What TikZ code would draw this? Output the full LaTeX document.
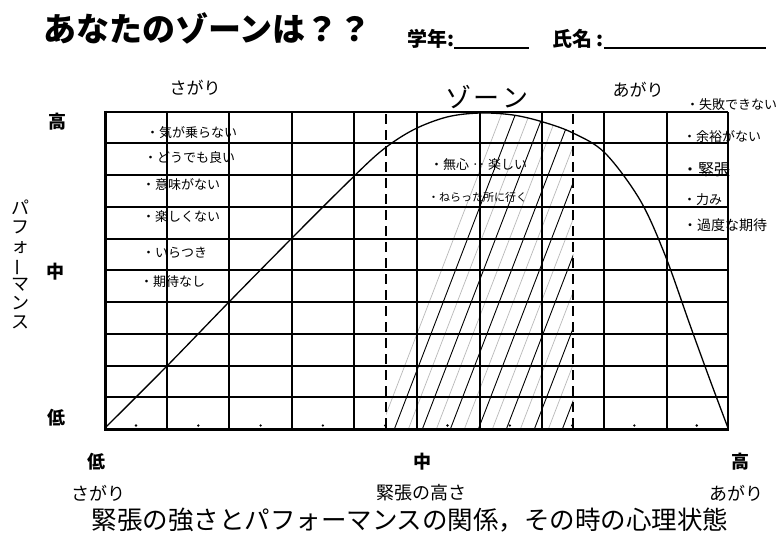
\documentclass[tikz,border=0pt]{standalone}
\usepackage{fontspec}
\setmainfont{Noto Sans CJK JP}
\usepackage{graphicx}
\begin{document}
\begin{tikzpicture}[x=1pt,y=-1pt,
  gridline/.style={line width=2pt},
  frameline/.style={line width=3pt},
  zoneline/.style={line width=1.4pt,dash pattern=on 10pt off 6pt},
  curveline/.style={line width=1.3pt},
  hatchdark/.style={line width=0.9pt},
  hatchlight/.style={line width=0.7pt,gray!55},
  hw/.style={anchor=west,inner sep=0pt,font=\fontsize{13}{15}\selectfont},
  hwbig/.style={inner sep=0pt,font=\fontsize{17}{19}\selectfont},
  axlab/.style={inner sep=0pt,font=\bfseries\fontsize{18}{20}\selectfont},
  botlab/.style={inner sep=0pt,font=\fontsize{18}{20}\selectfont}]
\useasboundingbox (0,0) rectangle (783,554);
\fill[white] (0,0) rectangle (783,554);

% hatching inside the zone, under the curve
\begin{scope}
  \clip (386,100) rectangle (573,428);
  \clip plot[smooth,tension=0.55] coordinates {(105,428) (166,367) (229,302) (292,238) (340,190) (380,152) (413,130) (447,117) (480,113) (513,115) (543,122) (573,133) (605,153) (640,200) (665,255) (690,325) (710,380) (728,428)} -- cycle;
  \foreach \s in {380,408,436,464,492,520,548,576} { \draw[hatchlight] (\s,430) -- ++(130,-338); }
  \foreach \s in {394,422,450,478,506,534,562} { \draw[hatchdark] (\s,430) -- ++(130,-338); }
\end{scope}

% grid
\foreach \x in {167,229,292,354,417,480,542,604,667,728} { \draw[gridline] (\x,112) -- (\x,428); }
\foreach \y in {112,143,175,207,239,270,302,334,366,397} { \draw[gridline] (105,\y) -- (728,\y); }
\draw[frameline] (105,110.5) -- (105,429.5) -- (729,429.5);
\foreach \i in {0,...,9} { \fill (136+62.3*\i,425.5) circle (1.3); }

% zone borders
\draw[zoneline] (386,114) -- (386,428);
\draw[zoneline] (573,114) -- (573,428);

% curve
\draw[curveline] plot[smooth,tension=0.55] coordinates {(105,428) (166,367) (229,302) (292,238) (340,190) (380,152) (413,130) (447,117) (480,113) (513,115) (543,122) (573,133) (605,153) (640,200) (665,255) (690,325) (710,380) (728,428)};

% title
\node[anchor=west,inner sep=0pt,font=\bfseries\fontsize{33}{36}\selectfont] (title) at (43,28) {あなたのゾーンは？？};
\node[anchor=west,inner sep=0pt,font=\bfseries\fontsize{20}{22}\selectfont] (grade) at (407,39) {学年:\rule[-2.5pt]{75pt}{1.5pt}};
\node[anchor=west,inner sep=0pt,font=\bfseries\fontsize{20}{22}\selectfont] (name) at (552,39) {氏名 :\rule[-2.5pt]{162pt}{1.5pt}};

% top handwritten labels
\node[hwbig] (sagaritop) at (195,88) {さがり};
\node[hwbig] (agaritop) at (638,90) {あがり};
\node[inner sep=0pt,font=\fontsize{26}{28}\selectfont] (zone) at (487,97) {ゾ\hspace{3pt}ー\hspace{3pt}ン};

% y axis
\node[axlab] (yhigh) at (57,122) {高};
\node[axlab] (ymid) at (55,272) {中};
\node[axlab] (ylow) at (56,418) {低};
\node[inner sep=0pt,align=center,font=\fontsize{18}{19}\selectfont] (ytitle) at (21,264) {パ\\フ\\ォ\\\rotatebox[origin=c]{90}{ー}\\マ\\ン\\ス};

% x axis
\node[axlab] (xlow) at (96,462) {低};
\node[axlab] (xmid) at (422,462) {中};
\node[axlab] (xhigh) at (740,462) {高};
\node[botlab] (xsagari) at (98,493) {さがり};
\node[botlab] (xtitle) at (421,493) {緊張の高さ};
\node[botlab] (xagari) at (736,493) {あがり};

% caption
\node[inner sep=0pt,font=\fontsize{25.5}{28}\selectfont] (caption) at (410,520) {緊張の強さとパフォーマンスの関係，その時の心理状態};

% left notes
\node[hw] (n1) at (146,133) {・気が乗らない};
\node[hw] (n2) at (144,158) {・どうでも良い};
\node[hw] (n3) at (142,185) {・意味がない};
\node[hw] (n4) at (142,217) {・楽しくない};
\node[hw] (n5) at (142,253) {・いらつき};
\node[hw] (n6) at (140,282) {・期待なし};

% middle notes
\node[hw] (m1) at (430,165) {・無心 ‥ 楽しい};
\node[hw,font=\fontsize{11}{13}\selectfont] (m2) at (428,197) {・ねらった所に行く};

% right notes
\node[hw] (r1) at (686,105) {・失敗できない};
\node[hw] (r2) at (683,137) {・余裕がない};
\node[hw,font=\fontsize{16}{18}\selectfont] (r3) at (682,170) {・緊張};
\node[hw] (r4) at (683,200) {・力み};
\node[hw,font=\fontsize{14}{16}\selectfont] (r5) at (683,225) {・過度な期待};
\end{tikzpicture}
\end{document}
